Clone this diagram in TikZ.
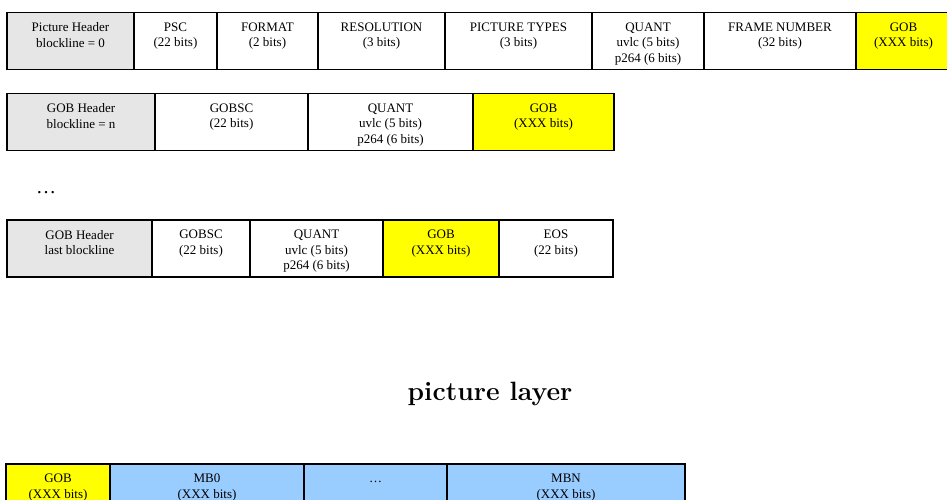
\documentclass[tikz,border=0pt]{standalone}
\usepackage{fontspec}
\newfontfamily\fieldfont{Liberation Serif}
\usetikzlibrary{positioning}
\definecolor{hdrgray}{HTML}{E6E6E6}
\definecolor{gobyellow}{HTML}{FFFF00}
\definecolor{mbblue}{HTML}{99CCFF}
\begin{document}
\begin{tikzpicture}[
x=1pt, y=-1pt,
node distance=0pt,
field/.style={draw, line width=1.8pt, outer sep=0pt, inner sep=0pt, minimum height=57pt, anchor=north west},
hdr/.style={field, fill=hdrgray},
gob/.style={field, fill=gobyellow},
mb/.style={field, fill=mbblue},
txt/.style={anchor=north, yshift=-10pt, inner sep=0pt, align=center, font=\fieldfont\fontsize{13}{15.5}\selectfont}
]
\useasboundingbox (0,0) rectangle (947,500);
% picture header
\node (pichdr) [hdr, minimum width=127pt, label={[txt]north:Picture Header\\blockline = 0}] at (7,12.5) {};
\node (psc) [field, right=of pichdr, minimum width=83pt, label={[txt]north:PSC\\(22 bits)}] {};
\node (format) [field, right=of psc, minimum width=101pt, label={[txt]north:FORMAT\\(2 bits)}] {};
\node (resol) [field, right=of format, minimum width=127pt, label={[txt]north:RESOLUTION\\(3 bits)}] {};
\node (ptypes) [field, right=of resol, minimum width=147pt, label={[txt]north:PICTURE TYPES\\(3 bits)}] {};
\node (quant) [field, right=of ptypes, minimum width=112pt, label={[txt]north:QUANT\\uvlc (5 bits)\\p264 (6 bits)}] {};
\node (framenum) [field, right=of quant, minimum width=152pt, label={[txt]north:FRAME NUMBER\\(32 bits)}] {};
\node (gob) [gob, right=of framenum, minimum width=95pt, label={[txt]north:GOB\\(XXX bits)}] {};
% gob header n
\node (gobhdr) [hdr, minimum width=148pt, label={[txt]north:GOB Header\\blockline = n}] at (7,93.5) {};
\node (gobsc) [field, right=of gobhdr, minimum width=153pt, label={[txt]north:GOBSC\\(22 bits)}] {};
\node (gquant) [field, right=of gobsc, minimum width=165pt, label={[txt]north:QUANT\\uvlc (5 bits)\\p264 (6 bits)}] {};
\node (ggob) [gob, right=of gquant, minimum width=141pt, label={[txt]north:GOB\\(XXX bits)}] {};
\node (dots) [anchor=base, font=\fieldfont\fontsize{20}{24}\selectfont] at (46,193) {…};
% last gob header
\node (lasthdr) [hdr, minimum width=145pt, label={[txt]north:GOB Header\\last blockline}] at (7,220) {};
\node (lgobsc) [field, right=of lasthdr, minimum width=98pt, label={[txt]north:GOBSC\\(22 bits)}] {};
\node (lquant) [field, right=of lgobsc, minimum width=133pt, label={[txt]north:QUANT\\uvlc (5 bits)\\p264 (6 bits)}] {};
\node (lgob) [gob, right=of lquant, minimum width=116pt, label={[txt]north:GOB\\(XXX bits)}] {};
\node (eos) [field, right=of lgob, minimum width=114pt, label={[txt]north:EOS\\(22 bits)}] {};
\node (title) [anchor=base, font=\fontsize{26.5}{32}\selectfont\bfseries] at (490,400) {picture layer};
% gob layer
\node (gobl) [gob, minimum width=104pt, label={[txt]north:GOB\\(XXX bits)}] at (6,464) {};
\node (mb0) [mb, right=of gobl, minimum width=194pt, label={[txt]north:MB0\\(XXX bits)}] {};
\node (mbdots) [mb, right=of mb0, minimum width=143pt, label={[txt]north:\vphantom{MB0}…}] {};
\node (mbn) [mb, right=of mbdots, minimum width=238pt, label={[txt]north:MBN\\(XXX bits)}] {};
\end{tikzpicture}
\end{document}
